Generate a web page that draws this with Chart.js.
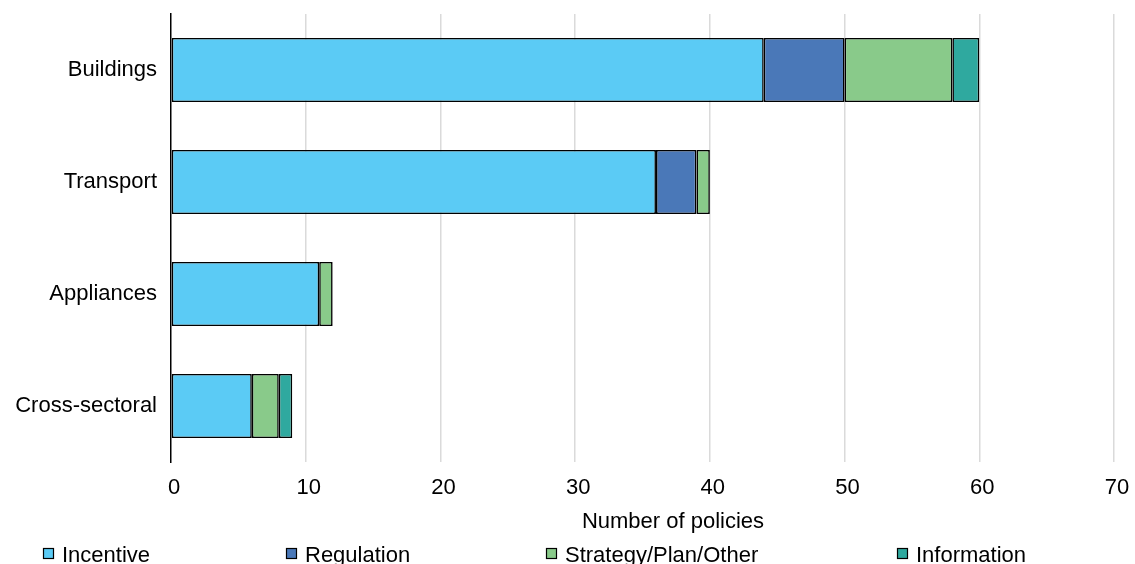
<!DOCTYPE html>
<html>
<head>
<meta charset="utf-8">
<script src="https://cdn.jsdelivr.net/npm/chart.js@4"></script>
<style>
  html, body { margin: 0; padding: 0; background: #fff; }
  #wrap { width: 1135px; height: 564px; }
</style>
</head>
<body>
<div id="wrap"><canvas id="policy_chart"></canvas></div>
<script>
var sectors = ['Buildings', 'Transport', 'Appliances', 'Cross-sectoral'];
var incentive = [44, 36, 11, 6];
var regulation = [6, 3, 0, 0];
var strategy = [8, 1, 1, 2];
var information = [2, 0, 0, 1];
var xTicks = [0, 10, 20, 30, 40, 50, 60, 70];
var axisTitle = 'Number of policies';

var FONT = "'Liberation Sans', Arial, sans-serif";

function bar(label, data, color) {
  return {
    label: label,
    data: data,
    backgroundColor: color,
    borderColor: '#000',
    borderWidth: 1.6,
    borderSkipped: false,
    categoryPercentage: 1,
    barPercentage: 0.571
  };
}

// legend + axis title drawn by hand to sit where the original has them
var extras = {
  id: 'extras',
  afterDraw: function (chart) {
    var ctx = chart.ctx;
    var legendX = [43, 286, 546, 897];
    ctx.save();
    ctx.font = '22px ' + FONT;
    ctx.fillStyle = '#000';
    ctx.textBaseline = 'alphabetic';
    ctx.textAlign = 'center';
    ctx.fillText(axisTitle, 673, 528);
    ctx.textAlign = 'left';
    chart.data.datasets.forEach(function (ds, i) {
      var x = legendX[i];
      ctx.fillStyle = ds.backgroundColor;
      ctx.fillRect(x, 548, 10, 10);
      ctx.strokeStyle = '#000';
      ctx.lineWidth = 1.2;
      ctx.strokeRect(x + 0.5, 548.5, 10, 10);
      ctx.fillStyle = '#000';
      ctx.fillText(ds.label, x + 19, 562);
    });
    ctx.restore();
  }
};

new Chart(document.getElementById('policy_chart').getContext('2d'), {
  type: 'bar',
  data: {
    labels: sectors,
    datasets: [
      bar('Incentive', incentive, '#5bcbf5'),
      bar('Regulation', regulation, '#4a78b8'),
      bar('Strategy/Plan/Other', strategy, '#89ca8a'),
      bar('Information', information, '#2fa99f')
    ]
  },
  options: {
    indexAxis: 'y',
    responsive: true,
    maintainAspectRatio: false,
    animation: false,
    layout: { padding: { top: 14, right: 21, left: 0, bottom: 0 } },
    plugins: {
      legend: { display: false },
      tooltip: { enabled: false }
    },
    scales: {
      x: {
        stacked: true,
        min: 0,
        max: 70,
        afterBuildTicks: function (scale) {
          scale.ticks = xTicks.map(function (v) { return { value: v }; });
        },
        afterFit: function (scale) {
          scale.height = 102;
          scale.paddingLeft = 0;
          scale.paddingRight = 0;
        },
        ticks: {
          font: { family: FONT, size: 22 },
          color: '#000',
          padding: 13,
          labelOffset: 3,
          maxRotation: 0
        },
        grid: {
          color: function (c) { return c.tick && c.tick.value === 0 ? 'rgba(0,0,0,0)' : '#dadada'; },
          lineWidth: 1.5,
          drawTicks: false
        },
        border: { display: false }
      },
      y: {
        stacked: true,
        afterFit: function (scale) {
          scale.width = 171;
          scale.paddingTop = 0;
          scale.paddingBottom = 0;
        },
        ticks: {
          font: { family: FONT, size: 22 },
          color: '#000',
          padding: 14
        },
        grid: { display: false, drawTicks: false },
        border: { display: true, color: '#000', width: 1.5 }
      }
    }
  },
  plugins: [extras]
});
</script>
</body>
</html>
